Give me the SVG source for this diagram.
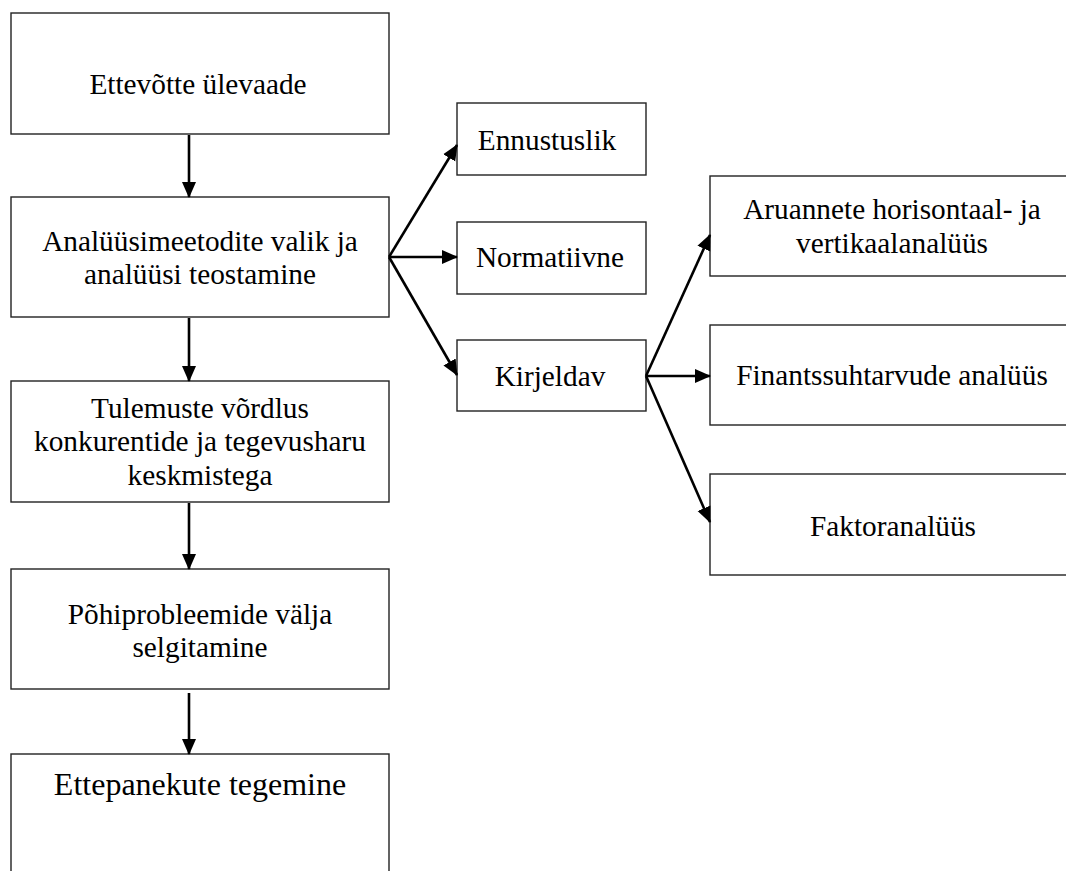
<svg xmlns="http://www.w3.org/2000/svg" width="1066" height="871" viewBox="0 0 1066 871">
<style>
.box{fill:#fff;stroke:#222;stroke-width:1.4}
.t{font-family:"Liberation Serif","Times New Roman",serif;font-size:29.3px;fill:#000;text-anchor:middle}
.big{font-size:32px}
.c{stroke:#000;stroke-width:2.6;fill:none;marker-end:url(#ah)}
</style>
<defs>
<marker id="ah" markerUnits="userSpaceOnUse" markerWidth="16" markerHeight="16" viewBox="0 0 16 16" refX="15" refY="8" orient="auto">
<path d="M0,1 L16,8 L0,15 Z" fill="#000"/>
</marker>
</defs>
<rect width="1066" height="871" fill="#fff"/>
<g id="n1"><rect class="box" x="11" y="13" width="378" height="121"/><text class="t" x="198" y="94">Ettevõtte ülevaade</text></g>
<g id="n2"><rect class="box" x="11" y="197" width="378" height="120"/><text class="t" x="200" y="251">Analüüsimeetodite valik ja</text><text class="t" x="200" y="284">analüüsi teostamine</text></g>
<g id="n3"><rect class="box" x="11" y="381" width="378" height="121"/><text class="t" x="200" y="418">Tulemuste võrdlus</text><text class="t" x="200" y="451">konkurentide ja tegevusharu</text><text class="t" x="200" y="485">keskmistega</text></g>
<g id="n4"><rect class="box" x="11" y="569" width="378" height="120"/><text class="t" x="200" y="624">Põhiprobleemide välja</text><text class="t" x="200" y="657">selgitamine</text></g>
<g id="n5"><rect class="box" x="11" y="754" width="378" height="140"/><text class="t big" x="200" y="795">Ettepanekute tegemine</text></g>
<g id="m1"><rect class="box" x="457" y="103" width="189" height="72"/><text class="t" x="547" y="150">Ennustuslik</text></g>
<g id="m2"><rect class="box" x="457" y="222" width="189" height="72"/><text class="t" x="550" y="267">Normatiivne</text></g>
<g id="m3"><rect class="box" x="457" y="340" width="189" height="71"/><text class="t" x="550" y="386">Kirjeldav</text></g>
<g id="r1"><rect class="box" x="710" y="176" width="400" height="100"/><text class="t" x="892" y="219">Aruannete horisontaal- ja</text><text class="t" x="892" y="253">vertikaalanalüüs</text></g>
<g id="r2"><rect class="box" x="710" y="325" width="400" height="100"/><text class="t" x="892" y="385">Finantssuhtarvude analüüs</text></g>
<g id="r3"><rect class="box" x="710" y="474" width="400" height="101"/><text class="t" x="893" y="536">Faktoranalüüs</text></g>
<g id="connectors">
<line class="c" x1="189" y1="135" x2="189" y2="197"/>
<line class="c" x1="189" y1="318" x2="189" y2="381"/>
<line class="c" x1="189" y1="503" x2="189" y2="569"/>
<line class="c" x1="189" y1="693" x2="189" y2="754"/>
<line class="c" x1="389" y1="257" x2="457" y2="145"/>
<line class="c" x1="389" y1="257" x2="457" y2="257"/>
<line class="c" x1="389" y1="257" x2="457" y2="375"/>
<line class="c" x1="646" y1="376" x2="710" y2="235"/>
<line class="c" x1="646" y1="376" x2="710" y2="376"/>
<line class="c" x1="646" y1="376" x2="710" y2="522"/>
</g>
</svg>
